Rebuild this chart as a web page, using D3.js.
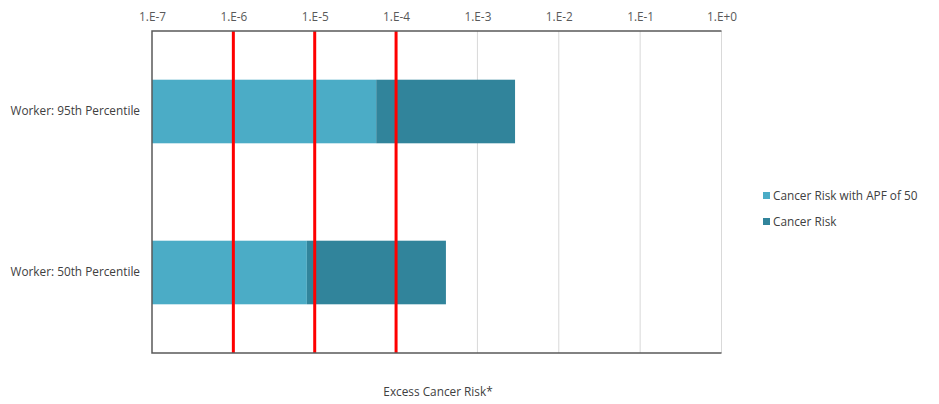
<!DOCTYPE html>
<html>
<head>
<meta charset="utf-8">
<script src="https://cdn.jsdelivr.net/npm/d3@7"></script>
<style>
  html, body { margin: 0; padding: 0; background: #fff; }
  svg { display: block; font-family: "Open Sans", "Noto Sans", sans-serif; }
</style>
</head>
<body>
<svg id="chart" width="939" height="404"></svg>
<script>
// ---- data ----
const categories = ["Worker: 95th Percentile", "Worker: 50th Percentile"];
const riskWithAPF = [5.7e-5, 8.0e-6];
const cancerRisk = [2.9e-3, 4.1e-4];
const seriesNames = ["Cancer Risk with APF of 50", "Cancer Risk"];
const seriesColors = ["#4BACC6", "#31849B"];
const tickValues = [1e-7, 1e-6, 1e-5, 1e-4, 1e-3, 1e-2, 1e-1, 1e0];
const tickLabels = ["1.E-7", "1.E-6", "1.E-5", "1.E-4", "1.E-3", "1.E-2", "1.E-1", "1.E+0"];
const thresholds = [1e-6, 1e-5, 1e-4];
const axisTitle = "Excess Cancer Risk*";

// ---- layout ----
const svg = d3.select("#chart");
const pL = 152, pR = 721.5, pT = 31, pB = 353;
const fs = 11.8;

const x = d3.scaleLog().domain([1e-7, 1e0]).range([pL, pR]);
const y = d3.scaleBand().domain(categories).range([pT, pB]).padding(0);
const barH = y.bandwidth() * 0.395;

// gridlines
svg.append("g").selectAll("line")
  .data(tickValues.slice(1))
  .join("line")
  .attr("x1", d => x(d)).attr("x2", d => x(d))
  .attr("y1", pT).attr("y2", pB)
  .attr("stroke", "#d9d9d9").attr("stroke-width", 1);

// bars
const rows = categories.map((c, i) => ({ c, a: riskWithAPF[i], r: cancerRisk[i] }));
const gBars = svg.append("g");
gBars.selectAll("rect.apf")
  .data(rows).join("rect")
  .attr("class", "apf")
  .attr("x", x(1e-7))
  .attr("width", d => x(d.a) - x(1e-7))
  .attr("y", d => y(d.c) + (y.bandwidth() - barH) / 2)
  .attr("height", barH)
  .attr("fill", seriesColors[0]);
gBars.selectAll("rect.risk")
  .data(rows).join("rect")
  .attr("class", "risk")
  .attr("x", d => x(d.a))
  .attr("width", d => x(d.r) - x(d.a))
  .attr("y", d => y(d.c) + (y.bandwidth() - barH) / 2)
  .attr("height", barH)
  .attr("fill", seriesColors[1]);

// threshold red lines
svg.append("g").selectAll("line")
  .data(thresholds).join("line")
  .attr("x1", d => x(d)).attr("x2", d => x(d))
  .attr("y1", pT).attr("y2", pB)
  .attr("stroke", "#ff0000").attr("stroke-width", 3);

// frame: top, left, bottom
svg.append("path")
  .attr("d", `M${pR},${pT}H${pL}V${pB}H${pR}`)
  .attr("fill", "none").attr("stroke", "#595959").attr("stroke-width", 1.5);

// top axis labels
const axisTop = d3.axisTop(x).tickValues(tickValues)
  .tickFormat((d, i) => tickLabels[i]).tickSize(0).tickPadding(0);
const gAxis = svg.append("g").attr("transform", `translate(0,${pT - 14})`).call(axisTop);
gAxis.select(".domain").remove();
gAxis.selectAll("text").attr("font-size", fs).attr("fill", "#595959")
  .attr("font-family", "\"Open Sans\", sans-serif").attr("dy", "0.35em");

// category labels
const axisLeft = d3.axisLeft(y).tickSize(0).tickPadding(12);
const gY = svg.append("g").attr("transform", `translate(${pL},0)`).call(axisLeft);
gY.select(".domain").remove();
gY.selectAll("text").attr("font-size", fs).attr("fill", "#404040")
  .attr("font-family", "\"Open Sans\", sans-serif");

// axis title
svg.append("text").attr("x", 438).attr("y", 396)
  .attr("text-anchor", "middle").attr("font-size", fs).attr("fill", "#404040")
  .text(axisTitle);

// legend
const lg = svg.append("g").attr("transform", "translate(763,196)");
seriesNames.forEach((n, i) => {
  const g = lg.append("g").attr("transform", `translate(0,${i * 26})`);
  g.append("rect").attr("x", 0).attr("y", -4).attr("width", 7).attr("height", 7).attr("fill", seriesColors[i]);
  g.append("text").attr("x", 10).attr("y", 0).attr("dy", "0.35em")
    .attr("font-size", fs).attr("fill", "#404040").text(n);
});
</script>
</body>
</html>
